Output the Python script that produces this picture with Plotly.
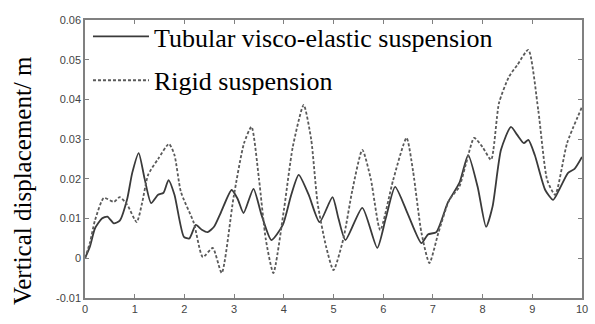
import plotly.graph_objects as go

# Tubular visco-elastic suspension (solid)
t_tub = [0.0, 0.1, 0.2, 0.34, 0.45, 0.58, 0.7, 0.85, 0.95, 1.08, 1.2, 1.33, 1.47, 1.58, 1.68, 1.8, 1.99, 2.1,
         2.23, 2.35, 2.47, 2.6, 2.73, 2.95, 3.07, 3.19, 3.39, 3.55, 3.75, 3.98, 4.15, 4.3, 4.5, 4.72, 4.98,
         5.1, 5.24, 5.58, 5.88, 6.05, 6.24, 6.5, 6.77, 6.9, 7.07, 7.3, 7.54, 7.71, 7.9, 8.07, 8.2, 8.37,
         8.57, 8.7, 8.83, 8.92, 9.05, 9.26, 9.42, 9.55, 9.72, 9.85, 10.0]
y_tub = [0.0, 0.003, 0.0075, 0.0100, 0.0105, 0.0088, 0.0095, 0.0150, 0.0215, 0.0265, 0.0200, 0.0139, 0.0160,
         0.0165, 0.0197, 0.0160, 0.0054, 0.0050, 0.0084, 0.0072, 0.0066, 0.0080, 0.0114, 0.0172, 0.0150,
         0.0114, 0.0175, 0.0110, 0.0046, 0.0084, 0.0160, 0.0210, 0.0160, 0.0091, 0.0154, 0.0100, 0.0046,
         0.0127, 0.0026, 0.0100, 0.0180, 0.0110, 0.0038, 0.0060, 0.0066, 0.0140, 0.0192, 0.0260, 0.0180,
         0.0079, 0.0130, 0.0273, 0.0331, 0.0310, 0.0290, 0.0298, 0.0260, 0.0172, 0.0147, 0.0175, 0.0215,
         0.0225, 0.0255]

# Rigid suspension (dashed)
t_rig = [0.0, 0.1, 0.2, 0.38, 0.58, 0.7, 0.85, 1.04, 1.15, 1.27, 1.47, 1.69, 1.8, 1.93, 2.19, 2.37, 2.57,
         2.75, 2.99, 3.2, 3.35, 3.5, 3.64, 3.79, 4.0, 4.18, 4.4, 4.55, 4.68, 4.85, 5.0, 5.2, 5.38, 5.58,
         5.75, 5.94, 6.2, 6.47, 6.6, 6.77, 6.93, 7.11, 7.33, 7.53, 7.67, 7.83, 8.0, 8.17, 8.33, 8.53, 8.7,
         8.92, 9.12, 9.3, 9.46, 9.7, 10.0]
y_rig = [0.0, 0.004, 0.0095, 0.0152, 0.0142, 0.0154, 0.0135, 0.0091, 0.0140, 0.0210, 0.0250, 0.0288, 0.0260,
         0.0167, 0.0089, 0.0003, 0.0026, -0.0037, 0.0154, 0.0290, 0.0331, 0.0200, 0.0046, -0.0037, 0.0120,
         0.0280, 0.0386, 0.0300, 0.0139, 0.0030, -0.0030, 0.0050, 0.0172, 0.0273, 0.0200, 0.0071, 0.0197,
         0.0303, 0.0220, 0.0064, -0.0012, 0.0064, 0.0147, 0.0180, 0.0240, 0.0303, 0.0280, 0.0248, 0.0391,
         0.0457, 0.0487, 0.0525, 0.0373, 0.0197, 0.0160, 0.0290, 0.0381]

x_ticks = [0, 1, 2, 3, 4, 5, 6, 7, 8, 9, 10]
y_ticks = [-0.01, 0, 0.01, 0.02, 0.03, 0.04, 0.05, 0.06]
y_tick_text = ["-0.01", "0", "0.01", "0.02", "0.03", "0.04", "0.05", "0.06"]
y_title = "Vertical displacement/ m"

fig = go.Figure()
fig.add_trace(go.Scatter(x=t_tub, y=y_tub, mode="lines", name="Tubular visco-elastic suspension",
                         legendgroup="a",
                         line=dict(color="#3a3a3a", width=1.8, dash="solid", shape="spline", smoothing=0.6)))
fig.add_trace(go.Scatter(x=t_rig, y=y_rig, mode="lines", name="Rigid suspension",
                         legendgroup="b",
                         line=dict(color="#5a5a5a", width=1.8, dash="3px,2px", shape="spline", smoothing=0.6)))

axis_common = dict(showgrid=False, zeroline=False, showline=True, linecolor="#808080", linewidth=1.5,
                   mirror="ticks", ticks="inside", ticklen=4, tickcolor="#808080", tickwidth=1,
                   tickfont=dict(family="Liberation Sans, Arial", size=11, color="#444"))

fig.update_layout(
    width=595, height=324,
    margin=dict(l=85, r=7, t=20, b=26),
    paper_bgcolor="white", plot_bgcolor="white",
    showlegend=True,
    legend=dict(x=0.006, y=1.025, xanchor="left", yanchor="top", bgcolor="rgba(0,0,0,0)",
                font=dict(family="Liberation Serif, Times New Roman", size=26, color="black"),
                tracegroupgap=7, itemwidth=56),
    xaxis=dict(range=[0, 10], tickvals=x_ticks, **axis_common),
    yaxis=dict(range=[-0.01, 0.06], tickvals=y_ticks, ticktext=y_tick_text, **axis_common),
    annotations=[dict(text=y_title, xref="paper", yref="paper", x=-0.127, y=0.424,
                      xanchor="center", yanchor="middle", textangle=-90, showarrow=False,
                      font=dict(family="Liberation Serif, Times New Roman", size=25, color="black"))],
)
fig.write_html("out.html")
